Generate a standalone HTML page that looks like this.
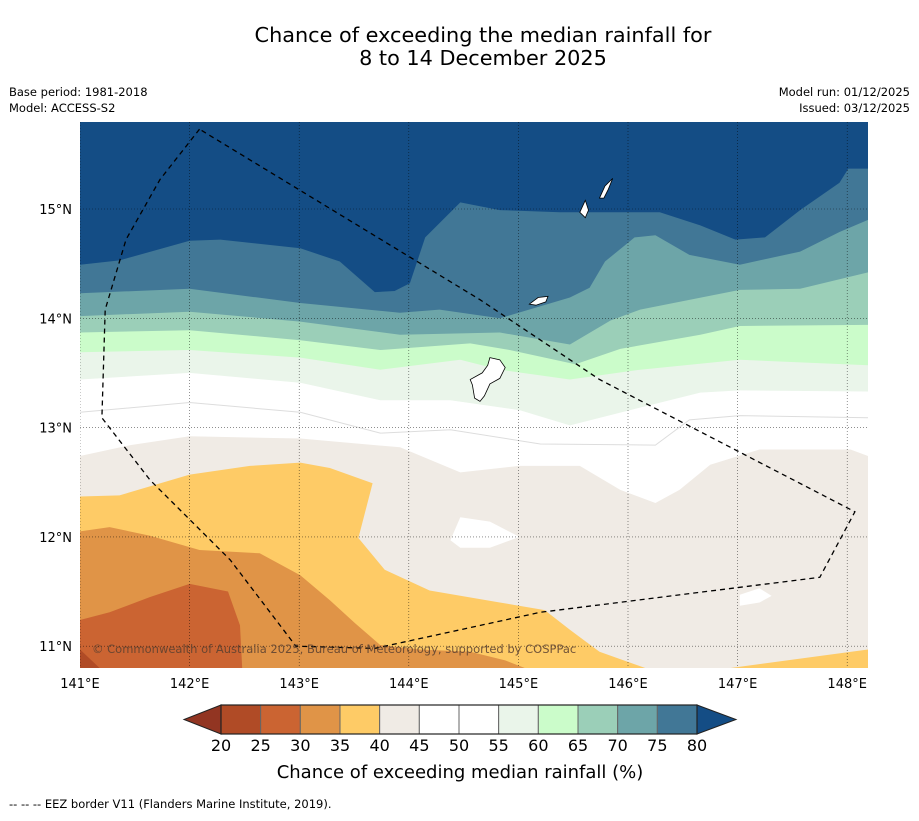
<!DOCTYPE html>
<html><head><meta charset="utf-8"><style>
body{margin:0;background:#fff;font-family:"Liberation Sans","DejaVu Sans",sans-serif}
</style></head><body>
<svg id="svg" width="919" height="816" xmlns="http://www.w3.org/2000/svg" font-family="DejaVu Sans, Liberation Sans, sans-serif">
<text x="483" y="42" font-size="20.8" text-anchor="middle">Chance of exceeding the median rainfall for</text>
<text x="483" y="65" font-size="20.8" text-anchor="middle">8 to 14 December 2025</text>
<text x="9" y="96" font-size="11.5">Base period: 1981-2018</text>
<text x="9" y="112" font-size="11.5">Model: ACCESS-S2</text>
<text x="910" y="96" font-size="11.5" text-anchor="end">Model run: 01/12/2025</text>
<text x="910" y="112" font-size="11.5" text-anchor="end">Issued: 03/12/2025</text>
<defs><clipPath id="mc"><rect x="80" y="122" width="788" height="546"/></clipPath></defs>
<g id="map" clip-path="url(#mc)"></g>
<g id="axes"></g>
<g id="cbar"></g>
<text x="460" y="778" font-size="18" text-anchor="middle">Chance of exceeding median rainfall (%)</text>
<text x="9" y="808" font-size="11.5">--  --  -- EEZ border V11 (Flanders Marine Institute, 2019).</text>
</svg>
<script>
const lonTicks=[141,142,143,144,145,146,147,148];
const latTicks=[11,12,13,14,15];
const cbLevels=[20,25,30,35,40,45,50,55,60,65,70,75,80];
const cbColors=["#b04b26","#cb6432","#e09447","#fecb66","#f0ebe5","#ffffff","#ffffff","#eaf5ea","#cbfcca","#9bcfb8","#6da5a8","#417796"];
const lowColor="#923522", highColor="#144d85";
const b80=[[141,14.49],[141.36,14.53],[142,14.71],[142.28,14.72],[143.01,14.64],[143.37,14.52],[143.69,14.24],[143.87,14.25],[144.01,14.32],[144.15,14.74],[144.47,15.06],[144.83,14.99],[145.38,14.97],[145.93,14.97],[146.29,14.97],[146.66,14.85],[146.98,14.72],[147.25,14.74],[147.57,14.99],[147.93,15.24],[148.01,15.37],[148.19,15.37]];
const b75=[[141,14.23],[142,14.27],[143.01,14.14],[143.92,14.05],[144.28,14.08],[144.83,14.00],[145.47,14.19],[145.65,14.28],[145.79,14.52],[146.06,14.74],[146.25,14.76],[146.56,14.58],[147.02,14.49],[147.57,14.61],[147.93,14.79],[148.19,14.90]];
const b70=[[141,14.02],[142,14.06],[143.01,13.97],[143.92,13.85],[144.83,13.87],[145.47,13.76],[145.84,13.98],[146.11,14.08],[147.02,14.26],[147.57,14.27],[148.19,14.42]];
const b65=[[141,13.87],[142,13.89],[143.01,13.80],[143.74,13.71],[144.56,13.77],[144.92,13.71],[145.52,13.58],[145.93,13.72],[146.66,13.85],[147.02,13.93],[148.19,13.94]];
const b60=[[141,13.69],[142,13.71],[143.01,13.64],[143.74,13.53],[144.47,13.62],[144.83,13.53],[145.47,13.44],[146.11,13.53],[147.02,13.62],[148.19,13.57]];
const b55=[[141,13.44],[142,13.50],[143.01,13.41],[143.74,13.25],[144.38,13.25],[145.01,13.16],[145.47,13.02],[146.02,13.16],[146.66,13.32],[147.02,13.34],[148.19,13.33]];
const c50=[[141,13.14],[142,13.23],[143.01,13.14],[143.74,12.95],[144.38,12.98],[145.20,12.85],[146.25,12.84],[146.56,13.07],[147.02,13.11],[148.19,13.09]];
const b45=[[141,12.74],[141.46,12.84],[142,12.92],[143.01,12.90],[143.92,12.82],[144.47,12.59],[145.01,12.65],[145.56,12.65],[145.93,12.43],[146.25,12.31],[146.47,12.43],[146.75,12.66],[147.20,12.80],[148.03,12.80],[148.19,12.74]];
const y40=[[141,12.37],[141.36,12.38],[142,12.57],[142.55,12.65],[143.01,12.68],[143.28,12.63],[143.67,12.49],[143.54,11.99],[143.78,11.70],[144.19,11.51],[144.83,11.40],[145.24,11.33],[145.47,11.15],[145.74,10.95],[146.16,10.80],[141,10.80]];
const y40b=[[146.93,10.80],[148.19,10.97],[148.19,10.80]];
const o35=[[141,12.05],[141.27,12.09],[141.64,12.01],[142.09,11.88],[142.64,11.85],[143.01,11.65],[143.28,11.42],[143.51,11.21],[143.74,11.01],[144.10,10.97],[144.56,10.95],[144.88,10.87],[145.06,10.80],[141,10.80]];
const d30=[[141,11.24],[141.27,11.31],[141.64,11.45],[142,11.57],[142.35,11.50],[142.46,11.19],[142.48,10.80],[141,10.80]];
const r25=[[141,10.97],[141.18,10.80],[141,10.80]];
const w1=[[144.38,11.97],[144.47,12.18],[144.74,12.14],[145.01,12.00],[144.74,11.90],[144.47,11.90]];
const w2=[[147.02,11.47],[147.20,11.53],[147.31,11.46],[147.20,11.40],[147.02,11.37]];
const guam=[[144.74,13.64],[144.83,13.62],[144.88,13.55],[144.83,13.45],[144.74,13.40],[144.69,13.29],[144.65,13.24],[144.60,13.27],[144.58,13.39],[144.56,13.44],[144.67,13.50],[144.72,13.57]];
const rota=[[145.10,14.13],[145.18,14.19],[145.27,14.20],[145.25,14.15],[145.16,14.12]];
const saipan=[[145.74,15.10],[145.79,15.21],[145.86,15.28],[145.82,15.18],[145.78,15.10]];
const tinian=[[145.56,14.97],[145.61,15.08],[145.64,14.99],[145.61,14.92]];
const eez=[[142.09,15.73],[141.73,15.27],[141.42,14.72],[141.23,14.08],[141.20,13.09],[141.64,12.52],[142.37,11.79],[142.97,11.00],[143.69,10.98],[145.20,11.31],[147.75,11.63],[148.07,12.23],[145.74,13.44],[144.65,14.17],[142.09,15.73]];

const X=lon=>80+(lon-141)*109.6, Y=lat=>209-(lat-15)*109.3;
const NS="http://www.w3.org/2000/svg";
function mk(parent,tag,attrs){const e=document.createElementNS(NS,tag);for(const k in attrs)e.setAttribute(k,attrs[k]);parent.appendChild(e);return e;}
const pts=a=>a.map(p=>X(p[0]).toFixed(1)+","+Y(p[1]).toFixed(1)).join(" ");
const below=a=>a.concat([[148.19,10.8],[141,10.8]]);
const map=document.getElementById('map');
let r=mk(map,'rect',{x:80,y:122,width:788,height:546,fill:highColor});


const layers=[[below(b80),"#417796","band-75-80"],[below(b75),"#6da5a8","band-70-75"],[below(b70),"#9bcfb8","band-65-70"],[below(b65),"#cbfcca","band-60-65"],[below(b60),"#eaf5ea","band-55-60"],[below(b55),"#ffffff","band-45-55"],[below(b45),"#f0ebe5","band-40-45"],[y40,"#fecb66","band-35-40"],[y40b,"#fecb66","band-35-40-east"],[o35,"#e09447","band-30-35"],[d30,"#cb6432","band-25-30"],[r25,"#b04b26","band-20-25"],[w1,"#ffffff","patch-45-50-a"],[w2,"#ffffff","patch-45-50-b"]];
layers.forEach(l=>{const p=mk(map,'polygon',{points:pts(l[0]),fill:l[1]});

});
let c=mk(map,'polyline',{points:pts(c50),fill:'none',stroke:'#ddd','stroke-width':1});


lonTicks.forEach(v=>{const l=mk(map,'line',{x1:X(v),x2:X(v),y1:122,y2:668,stroke:'#000','stroke-width':0.6,'stroke-dasharray':'1,2',opacity:0.7});

});
latTicks.forEach(v=>{const l=mk(map,'line',{x1:80,x2:868,y1:Y(v),y2:Y(v),stroke:'#000','stroke-width':0.6,'stroke-dasharray':'1,2',opacity:0.7});

});
[[guam,'guam'],[rota,'rota'],[saipan,'saipan'],[tinian,'tinian']].forEach(i=>{const p=mk(map,'polygon',{points:pts(i[0]),fill:'#fff',stroke:'#000','stroke-width':0.8});

});
let ez=mk(map,'polyline',{points:pts(eez),fill:'none',stroke:'#000','stroke-width':1.3,'stroke-dasharray':'5,4'});


let cp=mk(map,'text',{x:92,y:653,'font-size':11.5,fill:'#5a4030',opacity:0.85});
cp.textContent="© Commonwealth of Australia 2025, Bureau of Meteorology, supported by COSPPac";


const axes=document.getElementById('axes');
lonTicks.forEach(v=>{const t=mk(axes,'text',{x:X(v),y:688,'font-size':13,'text-anchor':'middle'});t.textContent=v+"°E";

});
latTicks.forEach(v=>{const t=mk(axes,'text',{x:72,y:Y(v)+5,'font-size':13,'text-anchor':'end'});t.textContent=v+"°N";

});
const cb=document.getElementById('cbar');
const cx0=221,cw=(697-221)/cbColors.length,cy=705,ch=29;
let lt=mk(cb,'polygon',{points:`${cx0},${cy} ${cx0},${cy+ch} 184,${cy+ch/2}`,fill:lowColor,stroke:'#222','stroke-width':1});


cbColors.forEach((col,i)=>{const b=mk(cb,'rect',{x:cx0+i*cw,y:cy,width:cw,height:ch,fill:col,stroke:'#666','stroke-width':1});

});
let rt=mk(cb,'polygon',{points:`${cx0+cbColors.length*cw},${cy} ${cx0+cbColors.length*cw},${cy+ch} 736,${cy+ch/2}`,fill:highColor,stroke:'#222','stroke-width':1});


mk(cb,'rect',{x:cx0,y:cy,width:cbColors.length*cw,height:ch,fill:'none',stroke:'#222','stroke-width':1.2});
cbLevels.forEach((v,i)=>{const t=mk(cb,'text',{x:cx0+i*cw,y:751,'font-size':16,'text-anchor':'middle'});t.textContent=v;

});
</script>
</body></html>
